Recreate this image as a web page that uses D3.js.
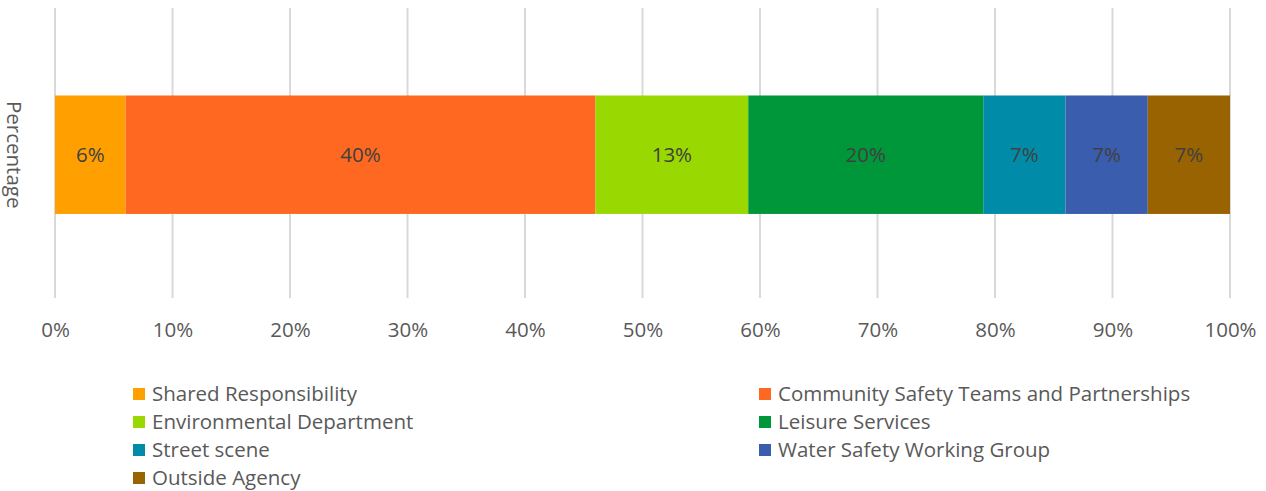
<!DOCTYPE html>
<html>
<head>
<meta charset="utf-8">
<script src="https://cdn.jsdelivr.net/npm/d3@7"></script>
<style>
  body { margin: 0; background: #fff; }
  svg text { font-family: "Open Sans", "Noto Sans", sans-serif; }
</style>
</head>
<body>
<div class="chart"></div>
<script>
// data
const categories = ["Shared Responsibility", "Community Safety Teams and Partnerships",
  "Environmental Department", "Leisure Services", "Street scene",
  "Water Safety Working Group", "Outside Agency"];
const values = [6, 40, 13, 20, 7, 7, 7];
const colors = ["#FFA000", "#FF6820", "#99D800", "#00963A", "#008CA8", "#3A5DAE", "#986300"];
const ticks = [0, 10, 20, 30, 40, 50, 60, 70, 80, 90, 100];
const rowLabel = "Percentage";

const W = 1266, H = 491;
const margin = {top: 8, right: 36, bottom: 193, left: 55};
const width = W - margin.left - margin.right;
const height = H - margin.top - margin.bottom;
const fs = "20.5px";

const svg = d3.select(".chart").append("svg")
  .attr("width", W)
  .attr("height", H)
  .append("g")
  .attr("transform", `translate(${margin.left},${margin.top})`);

const xScale = d3.scaleLinear().domain([0, 100]).range([0, width]);
const yScale = d3.scaleBand().domain([rowLabel]).range([0, height])
  .paddingInner(0.42).paddingOuter(0.42).align(0.51);

// gridlines
svg.append("g").selectAll("line")
  .data(ticks)
  .enter().append("line")
  .attr("x1", d => xScale(d)).attr("x2", d => xScale(d))
  .attr("y1", 0).attr("y2", height)
  .attr("stroke", "#d9d9d9")
  .attr("stroke-width", 2);

// tick labels
const xAxis = d3.axisBottom(xScale).tickValues(ticks).tickSize(0).tickPadding(0).tickFormat(d => d + "%");
const gx = svg.append("g")
  .attr("class", "axis x-axis")
  .attr("transform", `translate(0,${height + 24})`)
  .call(xAxis);
gx.select(".domain").remove();
gx.selectAll("text")
  .attr("fill", "#595959")
  .attr("font-size", fs)
  .attr("dy", "0.75em");

// stacked bars
let cum = 0;
const segs = values.map((v, i) => {
  const s = {name: categories[i], v: v, x0: cum, x1: cum + v, color: colors[i]};
  cum += v;
  return s;
});

const bar = svg.append("g");
bar.selectAll("rect")
  .data(segs)
  .enter().append("rect")
  .attr("x", d => xScale(d.x0))
  .attr("width", d => xScale(d.x1) - xScale(d.x0))
  .attr("y", yScale(rowLabel))
  .attr("height", yScale.bandwidth())
  .attr("fill", d => d.color);

bar.selectAll("text")
  .data(segs)
  .enter().append("text")
  .attr("x", d => xScale((d.x0 + d.x1) / 2))
  .attr("y", yScale(rowLabel) + yScale.bandwidth() / 2)
  .attr("text-anchor", "middle")
  .attr("dy", "0.35em")
  .attr("font-size", fs)
  .attr("fill", "#404040")
  .text(d => d.v + "%");

// y label
svg.append("text")
  .attr("transform", `translate(-41,${yScale(rowLabel) + yScale.bandwidth() / 2}) rotate(90)`)
  .attr("text-anchor", "middle")
  .attr("dy", "0.35em")
  .attr("font-size", fs)
  .attr("fill", "#595959")
  .text(rowLabel);

// legend
const legend = d3.select("svg").append("g");
const item = legend.selectAll("g")
  .data(segs)
  .enter().append("g")
  .attr("transform", (d, i) => `translate(${i % 2 === 0 ? 133 : 759},${394 + Math.floor(i / 2) * 28})`);
item.append("rect")
  .attr("x", 0).attr("y", -6)
  .attr("width", 12).attr("height", 12)
  .attr("fill", d => d.color);
item.append("text")
  .attr("x", 19)
  .attr("dy", "0.35em")
  .attr("font-size", fs)
  .attr("fill", "#595959")
  .text(d => d.name);
</script>
</body>
</html>
